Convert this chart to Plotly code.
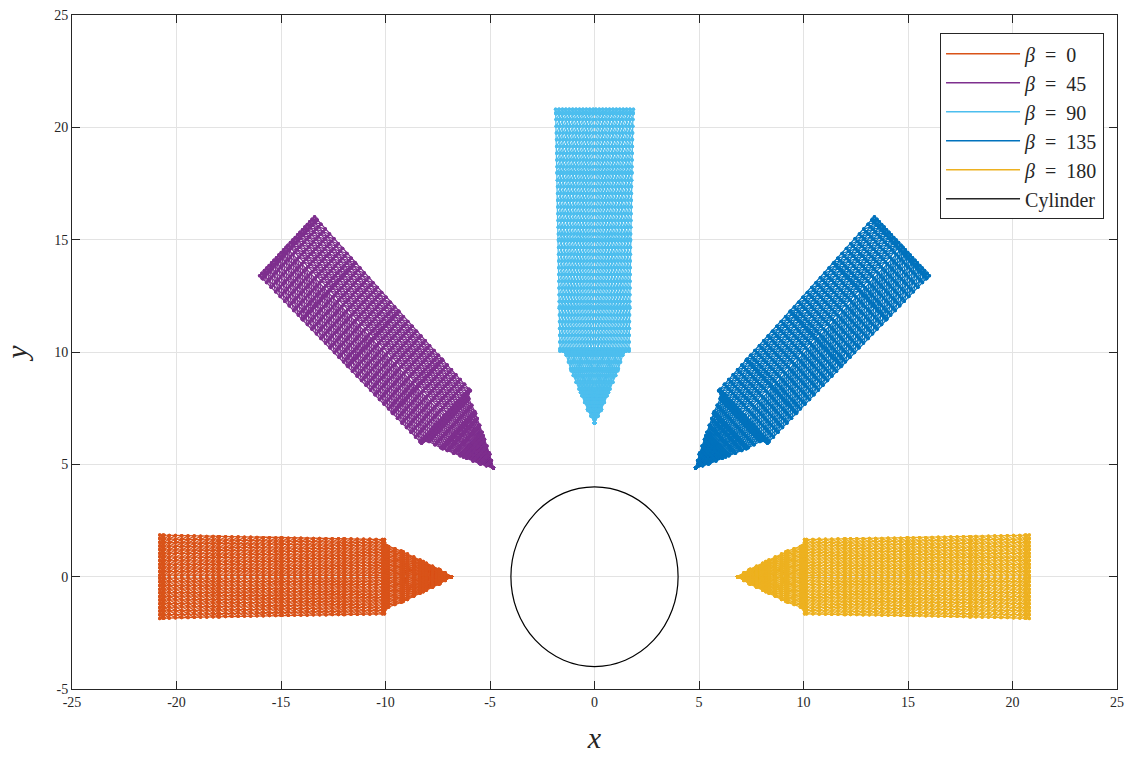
import numpy as np
import plotly.graph_objects as go

# Wave headings (deg) and colours of the ship meshes
BETAS = [0, 45, 90, 135, 180]
COLORS = ["#D95319", "#7E2F8E", "#4DBEEE", "#0072BD", "#EDB120"]
LABELS = ["<i>β</i>  =  0", "<i>β</i>  =  45", "<i>β</i>  =  90", "<i>β</i>  =  135", "<i>β</i>  =  180"]

# Hull waterplane: distance from cylinder centre along ship axis and half-breadth
HULL_S = [6.85, 7.4, 8.2, 9.16, 9.95, 10.05, 12.0, 15.0, 18.0, 20.6, 20.8]
HULL_HB = [0.0, 0.31, 0.67, 1.11, 1.38, 1.65, 1.68, 1.72, 1.78, 1.84, 1.86]

# Cylinder radius
CYL_R = 4.0

X_TICKS = [-25, -20, -15, -10, -5, 0, 5, 10, 15, 20, 25]
Y_TICKS = [-5, 0, 5, 10, 15, 20, 25]


def hull_mesh():
    """Panel mesh of the hull in (s, n) ship coordinates, polylines separated by None."""
    s_grid = np.unique(np.concatenate([np.arange(HULL_S[0], HULL_S[-1], 0.3), HULL_S]))
    hb = np.interp(s_grid, HULL_S, HULL_HB)
    fr = 0.035 + np.arange(12) * (0.965 / 11)
    fr = np.concatenate([-fr[::-1], fr])
    S, N = [], []
    # longitudinal lines
    for f in fr:
        S += list(s_grid) + [None]
        N += list(f * hb) + [None]
    # transverse station lines
    for si, h in zip(s_grid, hb):
        S += [si] * len(fr) + [None]
        N += list(fr * h) + [None]
    # diagonal panel edges (chevrons toward the bow)
    pos = fr[fr > 0]
    for i in range(len(s_grid) - 1):
        for j in range(len(pos) - 1):
            for sign in (1, -1):
                S += [s_grid[i + 1], s_grid[i], None]
                N += [sign * pos[j] * hb[i + 1], sign * pos[j + 1] * hb[i], None]
    return S, N


S, N = hull_mesh()

fig = go.Figure()

for beta, col in zip(BETAS, COLORS):
    th = np.pi - np.deg2rad(beta)
    xs, ys = [], []
    for s, n in zip(S, N):
        if s is None:
            xs.append(None)
            ys.append(None)
        else:
            xs.append(s * np.cos(th) - n * np.sin(th))
            ys.append(s * np.sin(th) + n * np.cos(th))
    fig.add_trace(go.Scatter(
        x=xs, y=ys, mode="lines+markers",
        line=dict(color=col, width=1.3),
        marker=dict(color=col, size=3.5),
        showlegend=False, hoverinfo="skip",
    ))

# legend entries
for lab, col in zip(LABELS, COLORS):
    fig.add_trace(go.Scatter(x=[None], y=[None], mode="lines", name=lab,
                             line=dict(color=col, width=1.5)))
fig.add_trace(go.Scatter(x=[None], y=[None], mode="lines", name="Cylinder",
                         line=dict(color="#262626", width=1.5)))

fig.add_shape(type="circle", xref="x", yref="y",
              x0=-CYL_R, y0=-CYL_R, x1=CYL_R, y1=CYL_R,
              line=dict(color="black", width=1.2))

axis_common = dict(
    showgrid=True, gridcolor="#E3E3E3", gridwidth=1,
    zeroline=False, showline=True, linecolor="#262626", linewidth=1,
    mirror="ticks", ticks="inside", ticklen=8, tickcolor="#262626",
    tickfont=dict(family="Liberation Serif", size=14, color="#262626"),
    automargin=False,
)

fig.update_xaxes(range=[-25, 25], tickvals=X_TICKS, ticktext=[str(v) for v in X_TICKS],
                 title=dict(text="<i>x</i>", font=dict(family="Liberation Serif", size=30, color="#262626"),
                            standoff=18),
                 **axis_common)
fig.update_yaxes(range=[-5, 25], tickvals=Y_TICKS, ticktext=[str(v) for v in Y_TICKS],
                 title=dict(text="<i>y</i>", font=dict(family="Liberation Serif", size=30, color="#262626"),
                            standoff=18),
                 **axis_common)

fig.update_layout(
    width=1136, height=757,
    margin=dict(l=72, r=19, t=15, b=68),
    plot_bgcolor="white", paper_bgcolor="white",
    legend=dict(
        x=0.9876, y=0.973, xanchor="right", yanchor="top",
        bgcolor="white", bordercolor="#262626", borderwidth=1,
        font=dict(family="Liberation Serif", size=20, color="#262626"),
        tracegroupgap=0, itemwidth=74,
    ),
)

fig.write_html("out.html")
